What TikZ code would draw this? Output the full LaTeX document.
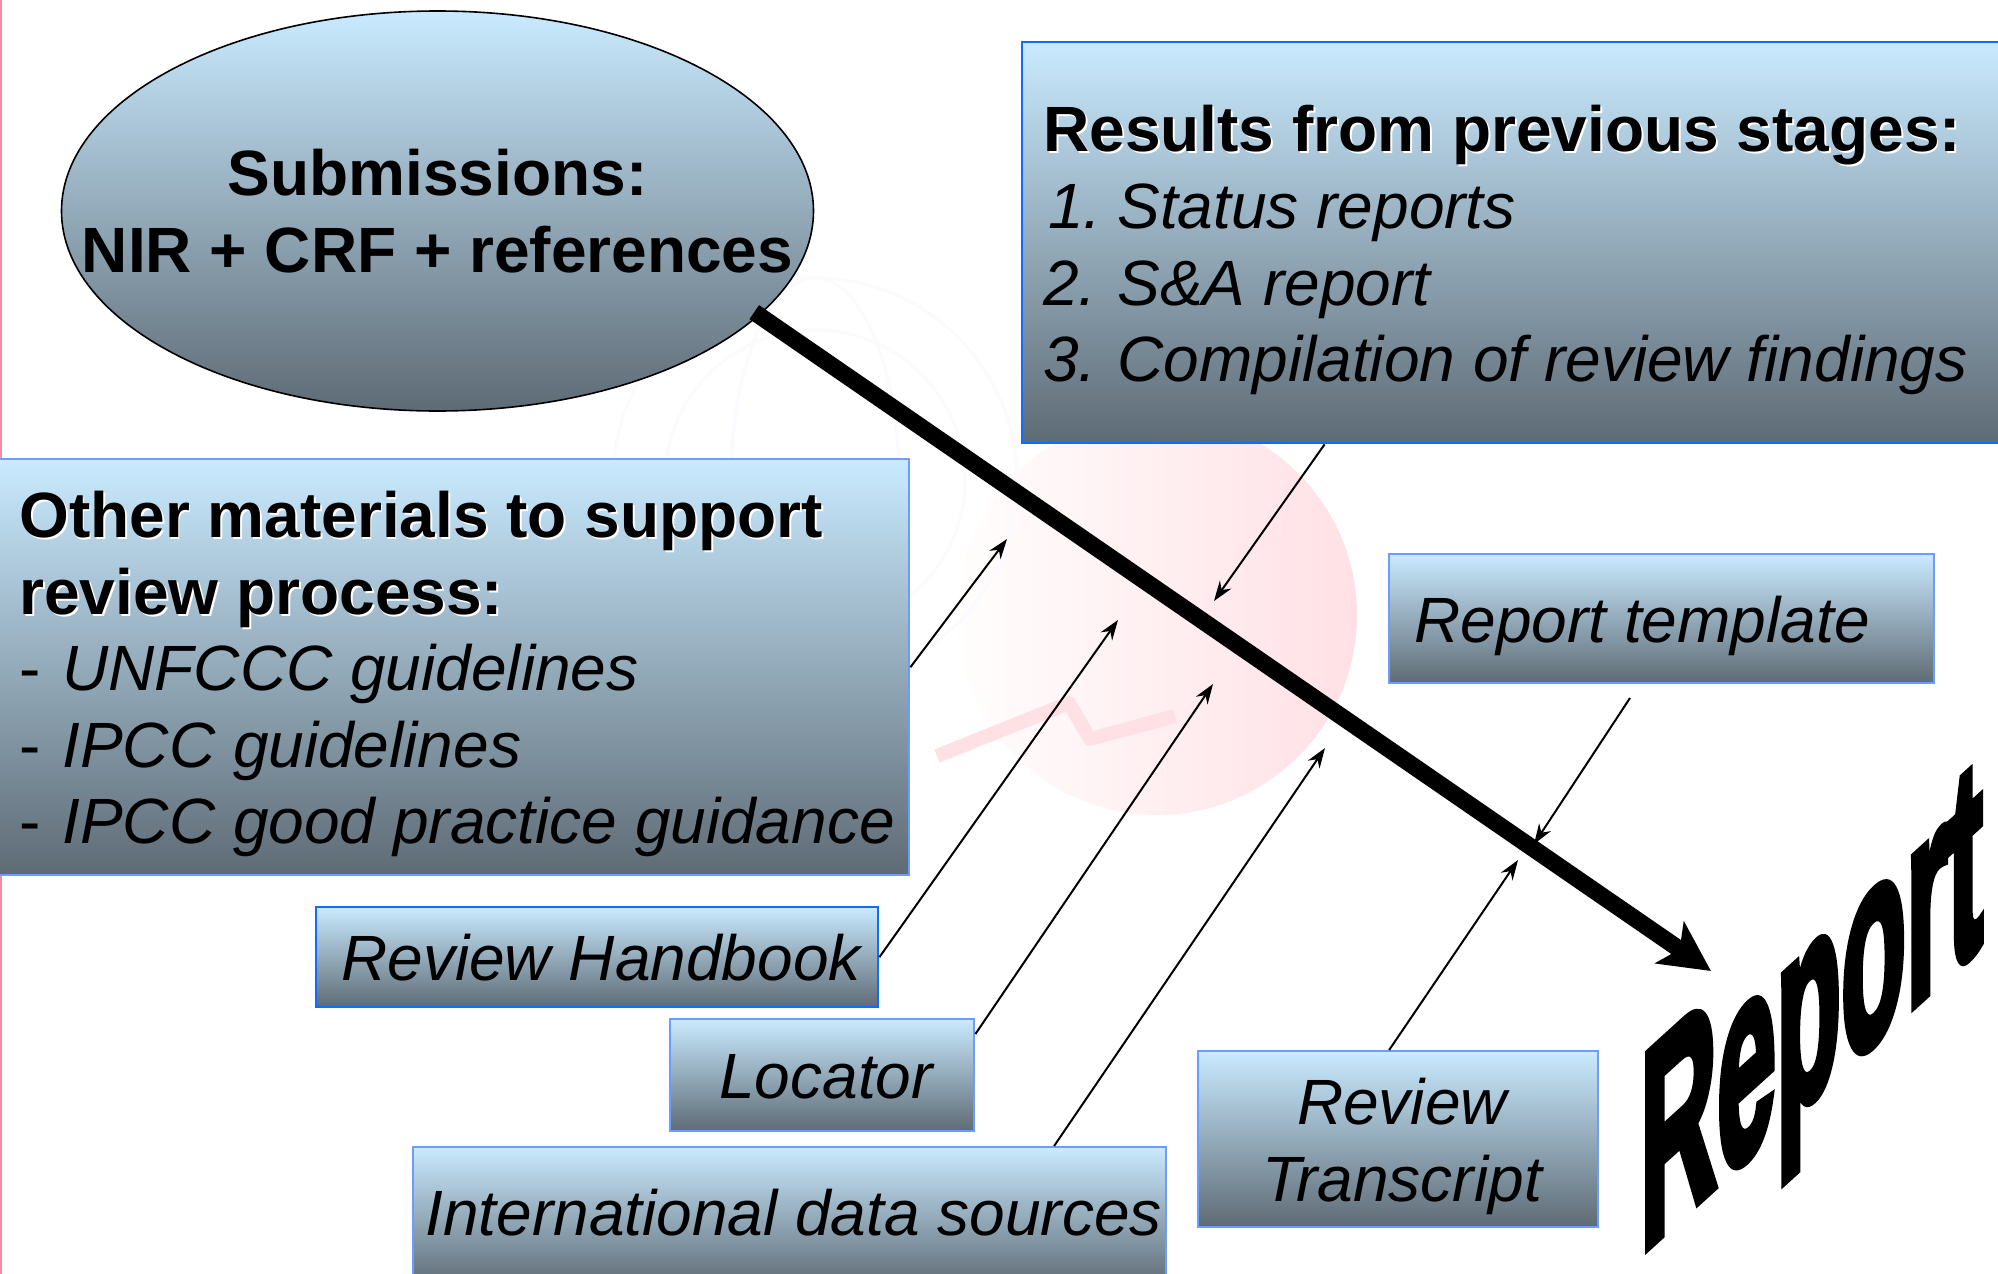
\documentclass[tikz,border=0pt]{standalone}
\usepackage{fontspec}
\setmainfont{Liberation Sans}
\newfontfamily\wordartfont[FakeBold=4]{Liberation Sans Bold}
\usetikzlibrary{arrows.meta,shapes.geometric,calc}
\definecolor{gradtop}{HTML}{C9EAFF}
\definecolor{gradbot}{HTML}{5E6B75}
\definecolor{boxlight}{HTML}{6C9CFF}
\definecolor{boxstrong}{HTML}{0F6CFF}
\definecolor{wmpink}{HTML}{FFE0E5}
\definecolor{wmpale}{HTML}{FFFEFD}
\definecolor{wmblue}{HTML}{FAFAFF}
\definecolor{edgepink}{HTML}{F58CA0}
\newcommand{\shadowed}[1]{\leavevmode\rlap{\raisebox{-0.9pt}{\kern0.9pt\textcolor{white}{#1}}}#1}
\newcommand{\tabbed}[2]{\makebox[#1][l]{#2}}
\tikzset{
  x=0.5pt,y=-0.5pt,
  gradfill/.style={shade,top color=gradtop,bottom color=gradbot},
  gradbox/.style={gradfill,draw=boxlight,line width=1.2pt,rectangle,inner sep=0pt,anchor=north west},
  strongbox/.style={gradbox,draw=boxstrong},
  boxtext/.style={inner sep=0pt,font=\fontsize{32}{38.25}\selectfont,text=black},
  itext/.style={boxtext,font=\fontsize{32}{38.25}\selectfont\itshape},
  btext/.style={boxtext,font=\fontsize{32}{38.25}\selectfont\bfseries},
  feed/.style={draw=black,line width=1pt,-{Stealth[length=10pt,width=7pt]}},
  mainflow/.style={draw=black,line width=8.5pt,shorten <=-3pt,-{Stealth[length=25pt,width=25pt,inset=6pt]}},
}
\begin{document}
\begin{tikzpicture}
\useasboundingbox (0,0) rectangle (1998,1274);
\fill[white] (0,0) rectangle (1998,1274);
\fill[edgepink] (0,0) rectangle (1.6,1274);
% watermark
\shade[left color=wmpale,right color=wmpink] (1157,615) circle (100pt);
\draw[wmblue,line width=1.5pt] (815,480) circle (101pt);
\draw[wmblue,line width=1.5pt] (815,480) circle (75pt);
\draw[wmblue,line width=1.5pt] (815,480) ellipse (42pt and 101pt);
\draw[wmpink,line width=7pt,line join=round] (937,756) -- (1069,703) -- (1090,739) -- (1175,716);
% shapes
\node[ellipse,gradfill,draw=black,line width=0.8pt,inner sep=0pt,minimum width=376pt,minimum height=200pt] (sub) at (437.5,211) {};
\node[gradbox,minimum width=456.5pt,minimum height=208pt] (other) at (-5,458) {};
\node[strongbox,minimum width=490pt,minimum height=200.5pt] (results) at (1021,41) {};
\node[strongbox,minimum width=281pt,minimum height=50pt] (hand) at (315,906) {};
\node[gradbox,minimum width=152pt,minimum height=56pt] (loc) at (669,1018) {};
\node[gradbox,minimum width=376.5pt,minimum height=70pt] (intl) at (412,1146) {};
\node[gradbox,minimum width=200pt,minimum height=88pt] (trans) at (1197,1050) {};
\node[gradbox,minimum width=272.5pt,minimum height=64.5pt] (tmpl) at (1388,553) {};
% connectors
\coordinate (t1) at (1007,539);
\coordinate (t2) at (1118,620);
\coordinate (t3) at (1213,684);
\coordinate (t4) at (1325,748);
\coordinate (t5) at (1518,860);
\coordinate (t6) at (1534,844);
\coordinate (t7) at (1214,601);
\coordinate (tmplfree) at (1630,698);
\coordinate (flowend) at (1711,971);
\draw[feed] (other.east) -- (t1);
\draw[feed] (hand.east) -- (t2);
\draw[feed] ($(loc.north east)!0.14!(loc.south east)$) -- (t3);
\draw[feed] ($(intl.north west)!0.85!(intl.north east)$) -- (t4);
\draw[feed] ($(trans.north west)!0.4775!(trans.north east)$) -- (t5);
\draw[feed] (tmplfree) -- (t6);
\draw[feed] ($(results.south west)!0.309!(results.south east)$) -- (t7);
\draw[mainflow] (sub.-18.5) -- (flowend);
% text
\node[btext,anchor=base] (subA) at (437.5,195.5) {Submissions:};
\node[btext,anchor=base] (subB) at (437.5,272.5) {NIR + CRF + references};
\node[btext,anchor=base west] (oth1) at (19,537.5) {\shadowed{Other materials to support}};
\node[btext,anchor=base west] (oth2) at (19,614.5) {\shadowed{review process:}};
\node[itext,anchor=base west] (oth3) at (19,690.5) {\tabbed{21.5pt}{\upshape -}UNFCCC guidelines};
\node[itext,anchor=base west] (oth4) at (19,767.5) {\tabbed{21.5pt}{\upshape -}IPCC guidelines};
\node[itext,anchor=base west] (oth5) at (19,843.5) {\tabbed{21.5pt}{\upshape -}IPCC good practice guidance};
\node[btext,anchor=base west] (res1) at (1043,151.5) {\shadowed{Results from previous stages:}};
\node[itext,anchor=base west] (res2) at (1043,228.5) {\tabbed{37pt}{\hspace{2.5pt}1.}Status reports};
\node[itext,anchor=base west] (res3) at (1043,305.5) {\tabbed{37pt}{2.}S\&A report};
\node[itext,anchor=base west] (res4) at (1043,381.5) {\tabbed{37pt}{3.}Compilation of review findings};
\node[itext,anchor=base west] (handt) at (341,980) {Review Handbook};
\node[itext,anchor=base] (loct) at (826,1098.5) {Locator};
\node[itext,anchor=base west] (intlt) at (425,1235.5) {International data sources};
\node[itext,anchor=base] (tr1) at (1402,1124.5) {Review};
\node[itext,anchor=base] (tr2) at (1402,1201.5) {Transcript};
\node[itext,anchor=base west] (tmplt) at (1414,642.5) {Report template};
% word art
\begin{scope}[shift={(1640,1254)}]
\node[cm={0.38,0.345,0,1,(0,0)},transform shape,anchor=base west,inner sep=0pt,font=\fontsize{140}{140}\selectfont\wordartfont] (report) at (0,0) {Report};
\end{scope}
\end{tikzpicture}
\end{document}
